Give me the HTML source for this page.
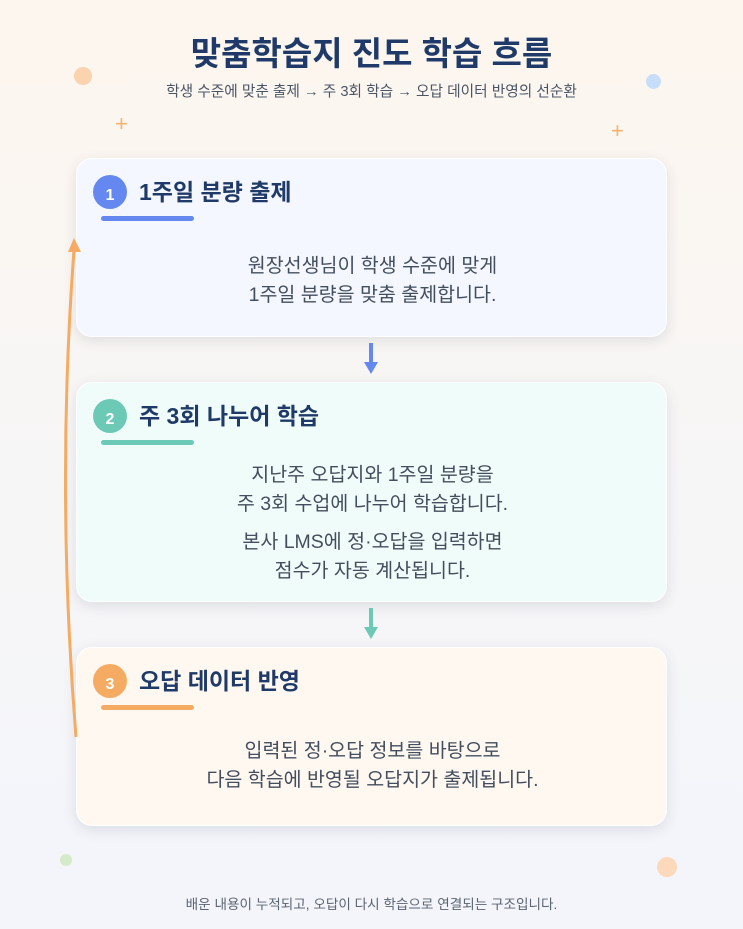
<!DOCTYPE html>
<html><head><meta charset="utf-8"><style>
*{margin:0;padding:0;box-sizing:border-box}
body{width:743px;height:929px;overflow:hidden;font-family:"Liberation Sans","Noto Sans CJK KR",sans-serif;background:linear-gradient(180deg,#fdf6ee 0%,#f7f6f6 50%,#f3f5fb 100%);position:relative;color:#3e4a5c}
.t{position:absolute;left:0;width:743px;text-align:center}
.card{position:absolute;left:76px;width:591px;border-radius:16px;box-shadow:0 4px 14px rgba(40,50,80,.12);border:1px solid #fff}
.num{position:absolute;left:16px;top:16px;width:34px;height:34px;border-radius:50%;color:#fff;font-weight:bold;font-size:16px;text-align:center;line-height:42px}
.h{position:absolute;left:62px;top:16px;font-size:23px;font-weight:bold;color:#1f3a68;line-height:34px}
.bar{position:absolute;left:24px;top:57px;width:93px;height:5px;border-radius:3px}
.body{position:absolute;left:0;width:591px;text-align:center;font-size:19.5px;line-height:29px;color:#434e5e}
.dot{position:absolute;border-radius:50%}
.plus{position:absolute;color:#f6b36a;font-size:22px;line-height:1}
</style></head><body>
<div class="t" style="top:27px;font-size:33px;font-weight:bold;color:#1f3a68">맞춤학습지 진도 학습 흐름</div>
<div class="t" style="top:80px;font-size:14.7px;color:#4a5566">학생 수준에 맞춘 출제 → 주 3회 학습 → 오답 데이터 반영의 선순환</div>
<div class="dot" style="left:74px;top:67px;width:18px;height:18px;background:#fbd3ae"></div>
<div class="dot" style="left:646px;top:74px;width:15px;height:15px;background:#c6defa"></div>
<div class="dot" style="left:60px;top:854px;width:12px;height:12px;background:#d5eac8"></div>
<div class="dot" style="left:657px;top:857px;width:20px;height:20px;background:#fcd9bb"></div>
<div class="plus" style="left:115px;top:113px">+</div>
<div class="plus" style="left:611px;top:120px">+</div>

<div class="card" style="top:158px;height:179px;background:#f4f7ff">
<div class="num" style="background:#6488f0">1</div><div class="h">1주일 분량 출제</div><div class="bar" style="background:#6488f0"></div>
<div class="body" style="top:93px">원장선생님이 학생 수준에 맞게<br>1주일 분량을 맞춤 출제합니다.</div></div>

<div class="card" style="top:382px;height:220px;background:#f0fcfa">
<div class="num" style="background:#6cc9b6">2</div><div class="h">주 3회 나누어 학습</div><div class="bar" style="background:#6cc9b6"></div>
<div class="body" style="top:78px">지난주 오답지와 1주일 분량을<br>주 3회 수업에 나누어 학습합니다.</div>
<div class="body" style="top:145px">본사 LMS에 정·오답을 입력하면<br>점수가 자동 계산됩니다.</div></div>

<div class="card" style="top:647px;height:179px;background:#fef8f1">
<div class="num" style="background:#f5ab62">3</div><div class="h">오답 데이터 반영</div><div class="bar" style="background:#f5ab62"></div>
<div class="body" style="top:89px">입력된 정·오답 정보를 바탕으로<br>다음 학습에 반영될 오답지가 출제됩니다.</div></div>

<svg style="position:absolute;left:0;top:0" width="743" height="929">
<path d="M76 737 Q56 490 74 250" fill="none" stroke="#f5ab62" stroke-width="3"/>
<polygon points="74,238 68,252 81,252" fill="#f5ab62"/>
<line x1="371" y1="343" x2="371" y2="366" stroke="#6488f0" stroke-width="4"/>
<polygon points="364,362 378,362 371,374" fill="#6488f0"/>
<line x1="371" y1="608" x2="371" y2="631" stroke="#6cc9b6" stroke-width="4"/>
<polygon points="364,627 378,627 371,639" fill="#6cc9b6"/>
</svg>
<div class="t" style="top:893px;font-size:13.6px;color:#5b6472">배운 내용이 누적되고, 오답이 다시 학습으로 연결되는 구조입니다.</div>
</body></html>
